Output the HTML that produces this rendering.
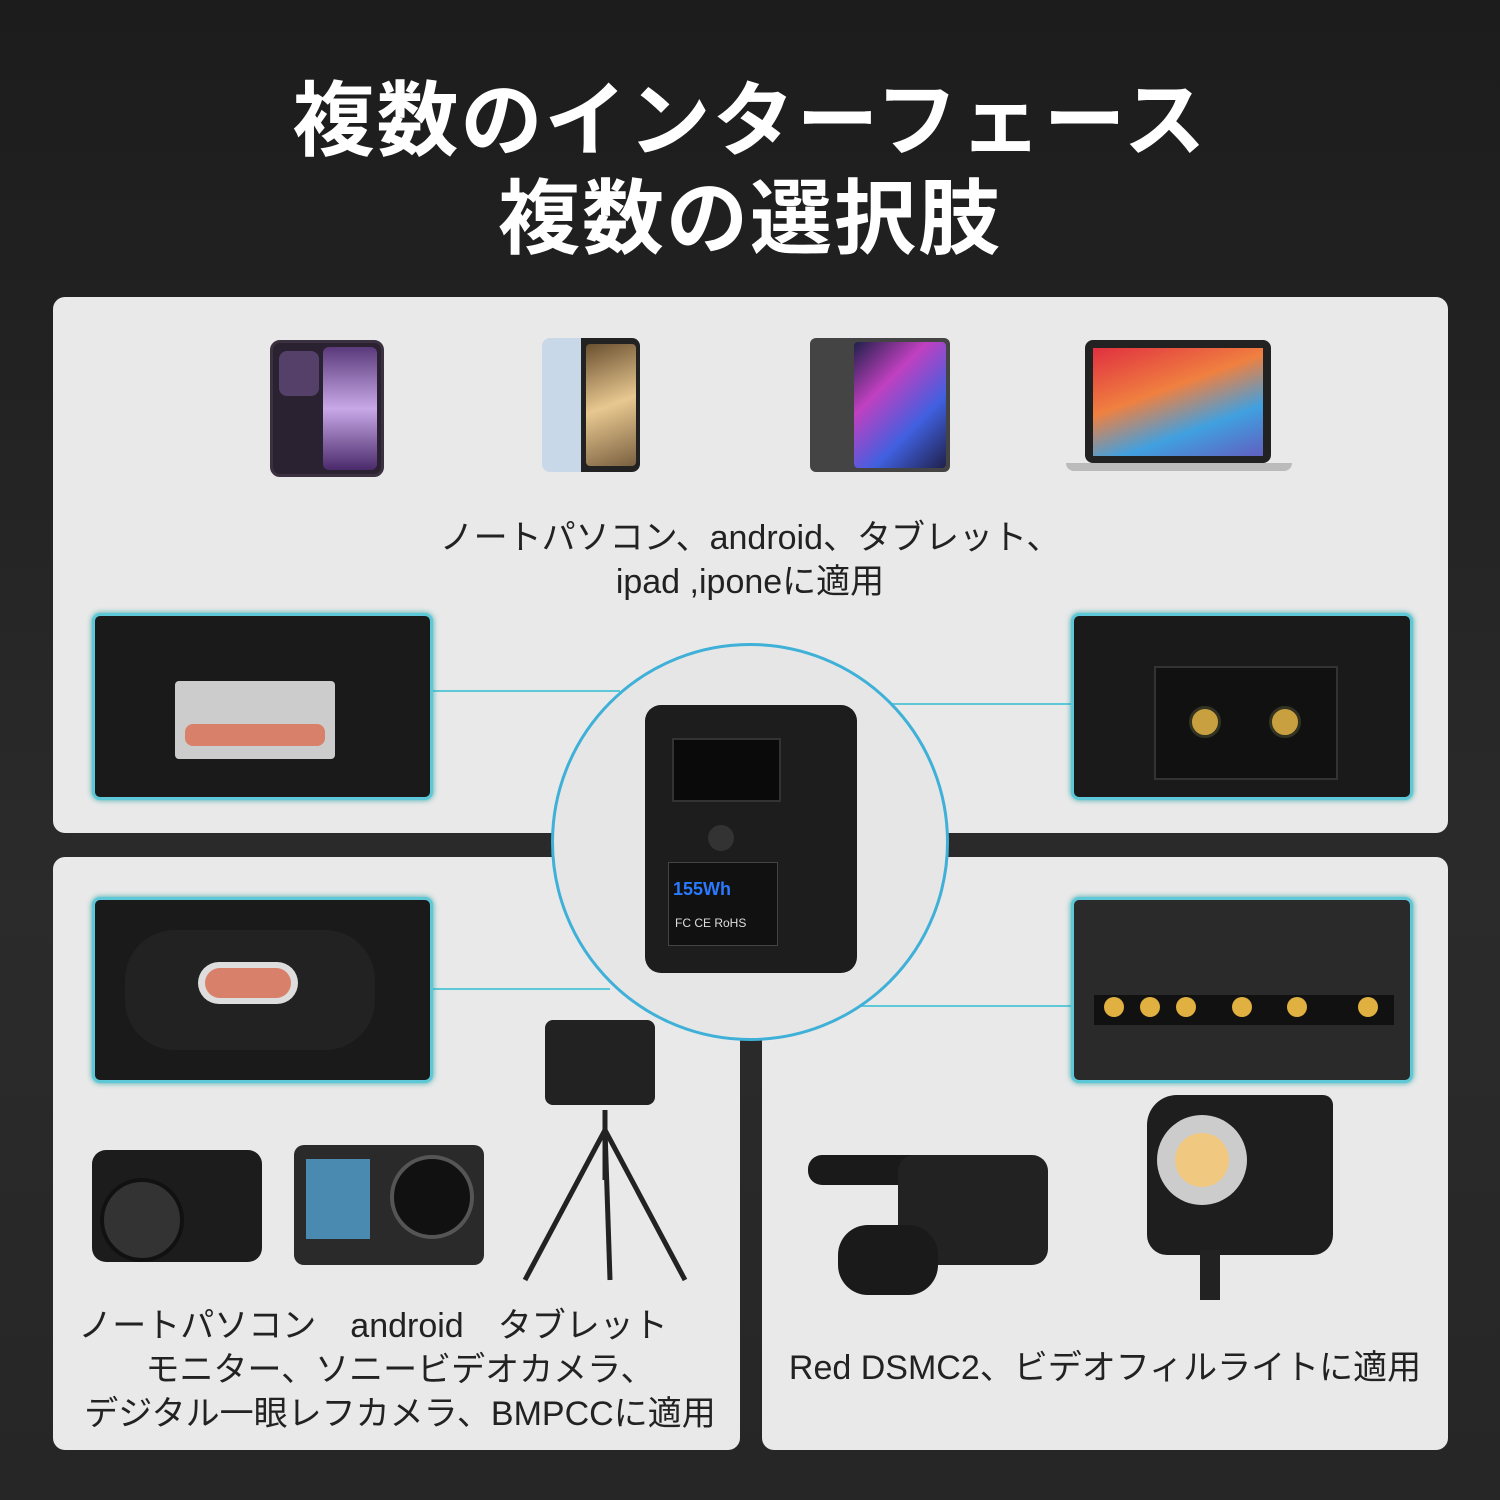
<!DOCTYPE html>
<html><head><meta charset="utf-8"><style>
body{margin:0;width:1500px;height:1500px;overflow:hidden;background:linear-gradient(180deg,#1c1c1c 0%,#2b2b2b 60%,#262626 100%);font-family:"Liberation Sans","Noto Sans CJK JP",sans-serif;position:relative}
.a{position:absolute}
.panel{position:absolute;background:#e9e9e9;border-radius:12px}
.inset{position:absolute;background:#1a1a1a;border:3px solid #5ec8d8;border-radius:8px;box-shadow:0 0 6px #3aa;overflow:hidden}
.t{position:absolute;color:#222;font-size:34px;text-align:center;white-space:nowrap}
.title{position:absolute;left:0;width:1500px;text-align:center;color:#fff;font-weight:bold;font-size:82px;letter-spacing:2px}
.ln{position:absolute;background:#5ec8d8}
</style></head><body>
<div class="title" style="top:54px">複数のインターフェース</div>
<div class="title" style="top:152px">複数の選択肢</div>

<div class="panel" style="left:53px;top:297px;width:1395px;height:536px"></div>
<div class="panel" style="left:53px;top:857px;width:687px;height:593px"></div>
<div class="panel" style="left:762px;top:857px;width:686px;height:593px"></div>

<div class="a" style="left:270px;top:340px;width:108px;height:131px;background:#2a2230;border-radius:10px;border:3px solid #3a3040"><div class="a" style="left:6px;top:8px;width:40px;height:45px;background:#55406a;border-radius:8px"></div><div class="a" style="left:50px;top:4px;width:54px;height:123px;background:linear-gradient(#5a3a7a,#c9a8e8,#4a2a6a);border-radius:6px"></div></div>
<div class="a" style="left:542px;top:338px;width:98px;height:134px;background:linear-gradient(90deg,#c8d8e8 40%,#222 40%);border-radius:8px"><div class="a" style="left:44px;top:6px;width:50px;height:122px;background:linear-gradient(160deg,#6a5030,#e8c890,#7a6040);border-radius:4px"></div></div>
<div class="a" style="left:810px;top:338px;width:140px;height:134px;background:#444;border-radius:6px"><div class="a" style="left:44px;top:4px;width:92px;height:126px;background:linear-gradient(135deg,#20204a,#c040c0,#4060e0,#20204a);border-radius:4px"></div></div>
<div class="a" style="left:1085px;top:340px;width:186px;height:123px;background:#222;border-radius:8px"><div class="a" style="left:8px;top:8px;width:170px;height:108px;background:linear-gradient(160deg,#e03040,#f08040 40%,#40a0e0 70%,#6060c0)"></div></div>
<div class="a" style="left:1066px;top:463px;width:226px;height:8px;background:#bbb;border-radius:0 0 8px 8px"></div>

<div class="t" style="left:250px;top:510px;width:1000px">ノートパソコン、android、タブレット、</div>
<div class="t" style="left:250px;top:554px;width:1000px">ipad ,iponeに適用</div>

<div class="ln" style="left:430px;top:690px;width:190px;height:2px"></div>
<div class="ln" style="left:430px;top:988px;width:180px;height:2px"></div>
<div class="ln" style="left:890px;top:703px;width:182px;height:2px"></div>
<div class="ln" style="left:860px;top:1005px;width:212px;height:2px"></div>

<div class="a" style="left:551px;top:643px;width:392px;height:392px;border-radius:50%;background:#e6e6e6;border:3px solid #3fb0d8"></div>
<div class="a" style="left:645px;top:705px;width:212px;height:268px;background:#1d1d1d;border-radius:16px"></div>
<div class="a" style="left:672px;top:738px;width:105px;height:60px;background:#0a0a0a;border:2px solid #333"></div>
<div class="a" style="left:708px;top:825px;width:26px;height:26px;border-radius:50%;background:#333"></div>
<div class="a" style="left:668px;top:862px;width:108px;height:82px;background:#111;border:1px solid #444"><div style="color:#2a7aff;font-weight:bold;font-size:18px;margin:16px 0 0 4px">155Wh</div><div style="color:#ddd;font-size:12px;margin:16px 0 0 6px">FC CE RoHS</div></div>

<div class="inset" style="left:92px;top:613px;width:335px;height:181px"><div class="a" style="left:80px;top:65px;width:160px;height:78px;background:#ccc;border-radius:4px"></div><div class="a" style="left:90px;top:108px;width:140px;height:22px;background:#d8806a;border-radius:8px"></div></div>
<div class="inset" style="left:1071px;top:613px;width:336px;height:181px"><div class="a" style="left:80px;top:50px;width:180px;height:110px;background:#111;border:2px solid #333"></div><div class="a" style="left:115px;top:90px;width:26px;height:26px;border-radius:50%;background:#c9a040;border:3px solid #332"></div><div class="a" style="left:195px;top:90px;width:26px;height:26px;border-radius:50%;background:#c9a040;border:3px solid #332"></div></div>
<div class="inset" style="left:92px;top:897px;width:335px;height:180px"><div class="a" style="left:30px;top:30px;width:250px;height:120px;background:#222;border-radius:50px"></div><div class="a" style="left:103px;top:62px;width:100px;height:42px;background:#ddd;border-radius:22px"></div><div class="a" style="left:110px;top:68px;width:86px;height:30px;background:#d8806a;border-radius:16px"></div></div>
<div class="inset" style="left:1071px;top:897px;width:336px;height:180px;background:#2a2a2a"><div class="a" style="left:20px;top:95px;width:300px;height:30px;background:#111"></div>
<div class="a" style="left:30px;top:97px;width:20px;height:20px;border-radius:50%;background:#e0b040"></div><div class="a" style="left:66px;top:97px;width:20px;height:20px;border-radius:50%;background:#e0b040"></div><div class="a" style="left:102px;top:97px;width:20px;height:20px;border-radius:50%;background:#e0b040"></div><div class="a" style="left:158px;top:97px;width:20px;height:20px;border-radius:50%;background:#e0b040"></div><div class="a" style="left:213px;top:97px;width:20px;height:20px;border-radius:50%;background:#e0b040"></div><div class="a" style="left:284px;top:97px;width:20px;height:20px;border-radius:50%;background:#e0b040"></div></div>

<div class="a" style="left:92px;top:1150px;width:170px;height:112px;background:#1c1c1c;border-radius:14px"><div class="a" style="left:8px;top:28px;width:76px;height:76px;border-radius:50%;background:#333;border:4px solid #111"></div></div>
<div class="a" style="left:294px;top:1145px;width:190px;height:120px;background:#2a2a2a;border-radius:10px"><div class="a" style="left:12px;top:14px;width:64px;height:80px;background:#4a8ab0"></div><div class="a" style="left:96px;top:10px;width:76px;height:76px;border-radius:50%;background:#111;border:4px solid #555"></div></div>
<div class="a" style="left:545px;top:1020px;width:110px;height:85px;background:#222;border-radius:8px"></div>
<svg class="a" style="left:515px;top:1100px" width="180" height="190"><g stroke="#222" stroke-width="5"><line x1="90" y1="10" x2="90" y2="80"/><line x1="90" y1="30" x2="10" y2="180"/><line x1="90" y1="30" x2="170" y2="180"/><line x1="90" y1="30" x2="95" y2="180"/></g></svg>
<div class="a" style="left:808px;top:1115px;width:240px;height:185px"><div class="a" style="left:0;top:40px;width:120px;height:30px;background:#1a1a1a;border-radius:14px"></div><div class="a" style="left:90px;top:40px;width:150px;height:110px;background:#222;border-radius:16px"></div><div class="a" style="left:30px;top:110px;width:100px;height:70px;background:#1a1a1a;border-radius:30px"></div></div>
<div class="a" style="left:1147px;top:1095px;width:186px;height:160px;background:#1e1e1e;border-radius:30px 10px 20px 20px"><div class="a" style="left:10px;top:20px;width:90px;height:90px;border-radius:50%;background:#ccc"></div><div class="a" style="left:28px;top:38px;width:54px;height:54px;border-radius:50%;background:#f0c880"></div></div>
<div class="a" style="left:1200px;top:1250px;width:20px;height:50px;background:#222"></div>

<div class="t" style="left:53px;top:1298px;width:640px">ノートパソコン　android　タブレット</div>
<div class="t" style="left:60px;top:1342px;width:680px">モニター、ソニービデオカメラ、</div>
<div class="t" style="left:60px;top:1386px;width:680px">デジタル一眼レフカメラ、BMPCCに適用</div>
<div class="t" style="left:762px;top:1340px;width:686px">Red DSMC2、ビデオフィルライトに適用</div>
</body></html>
